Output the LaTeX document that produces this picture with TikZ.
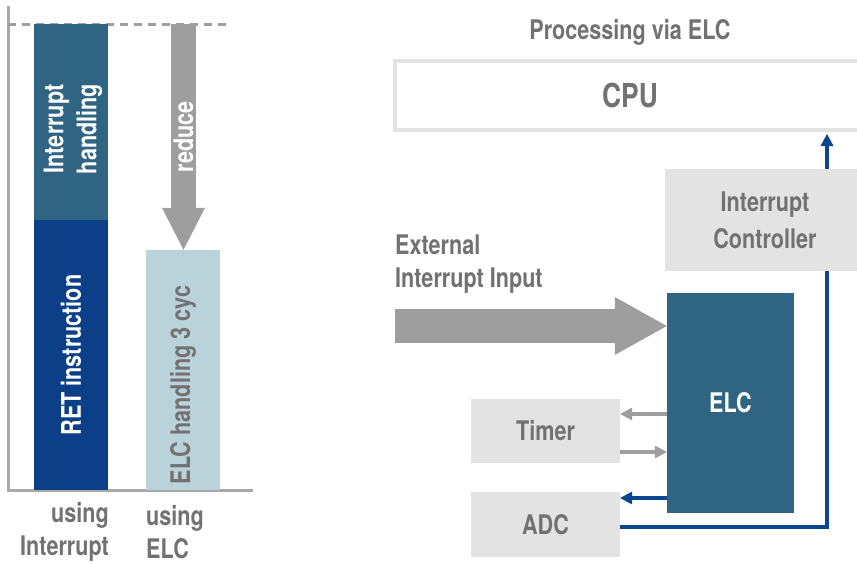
\documentclass[tikz,border=0pt]{standalone}
\usepackage{fontspec}
\setmainfont{TeX Gyre Heros}[FakeStretch=0.8]
\usetikzlibrary{arrows.meta}
\definecolor{elcteal}{HTML}{2F6482}
\definecolor{retblue}{HTML}{0B3F87}
\definecolor{wireblue}{HTML}{0A4590}
\definecolor{elclight}{HTML}{BAD3DA}
\definecolor{boxgray}{HTML}{E3E3E3}
\definecolor{arrowgray}{HTML}{9E9E9E}
\definecolor{textgray}{HTML}{727272}

\begin{document}
\begin{tikzpicture}[x=1pt,y=-1pt,
  every node/.style={font=\bfseries\fontsize{27}{33}\selectfont, text=textgray, inner sep=0pt},
  bar/.style={minimum width=74pt},
  vlabel/.style={rotate=90, align=center, text=white},
  block/.style={fill=boxgray, minimum width=149pt},
  fatarrow/.style={draw=arrowgray, line width=#1},
  thinarrow/.style={draw=#1, line width=4pt, -{Triangle[length=12pt,width=13pt,line width=0pt]}},
  axisline/.style={draw=arrowgray!90, line width=3pt}]
  \path[use as bounding box, clip] (0,0) rectangle (857,563);

  \coordinate (origin) at (8,490);
  \draw[axisline] (8,6) -- (origin) -- (253,490);
  \draw[arrowgray, line width=3pt, dash pattern=on 8pt off 6pt] (origin |- 0,24) -- (229,24);

  \node[bar, fill=elcteal, minimum height=196pt] (ih) at (71,122) {};
  \node[bar, fill=retblue, minimum height=270pt] (ret) at (71,355) {};
  \node[bar, fill=elclight, minimum height=240pt] (elcbar) at (183,370) {};
  \node[vlabel] at (73,129) {Interrupt\\handling};
  \node[vlabel] at (ret) {RET instruction};
  \node[vlabel, text=textgray] at (183,385) {ELC handling 3 cyc};

  \coordinate (cut) at (183.5,24);
  \draw[fatarrow=25pt, -{Triangle[length=42pt,width=43pt,line width=0pt]}] (cut) -- (cut |- elcbar.north);
  \node[vlabel] at (183.5,137) {reduce};

  \node[anchor=east, align=right] (lblint) at (109,532) {using\\Interrupt};
  \node[anchor=west, align=left] (lblelc) at (146,532) {using\\ELC};

  \node (title) at (630,32) {Processing via ELC};
  \node[draw=boxgray, line width=4pt, fill=white, minimum width=470pt, minimum height=69pt,
    font=\bfseries\fontsize{33}{36}\selectfont] (cpu) at (630,95.5) {CPU};
  \node[fill=elcteal, text=white, minimum width=127pt, minimum height=220pt] (elc) at (730.5,403) {ELC};
  \node[block, minimum height=64pt] (timer) at (545.5,431) {Timer};
  \node[block, minimum height=65pt] (adc) at (545.5,524.5) {ADC};
  \node[anchor=west, align=left] (ext) at (395,264) {External\\Interrupt Input};

  \coordinate (extin) at (395,326);
  \draw[fatarrow=34pt, -{Triangle[length=52pt,width=58pt,line width=0pt]}] (extin) -- (extin -| elc.west);
  \draw[thinarrow=arrowgray] ([yshift=-11pt]elc.west) -- ([yshift=-11pt]elc.west -| timer.east);
  \draw[thinarrow=arrowgray] ([yshift=-49pt]elc.west -| timer.east) -- ([yshift=-49pt]elc.west);
  \draw[thinarrow=wireblue] ([yshift=-95pt]elc.west) -- ([yshift=-95pt]elc.west -| adc.east);
  \draw[wireblue, line width=4pt] ([yshift=-2.5pt]adc.east) -| (827,271);
  \node[fill=boxgray, minimum width=200pt, minimum height=102pt, align=center] (intc) at (765,220) {Interrupt\\[4pt]Controller};
  \draw[thinarrow=wireblue, shorten >=2pt] ([xshift=62pt]intc.north) -- ([xshift=62pt]intc.north |- cpu.south);
\end{tikzpicture}
\end{document}
